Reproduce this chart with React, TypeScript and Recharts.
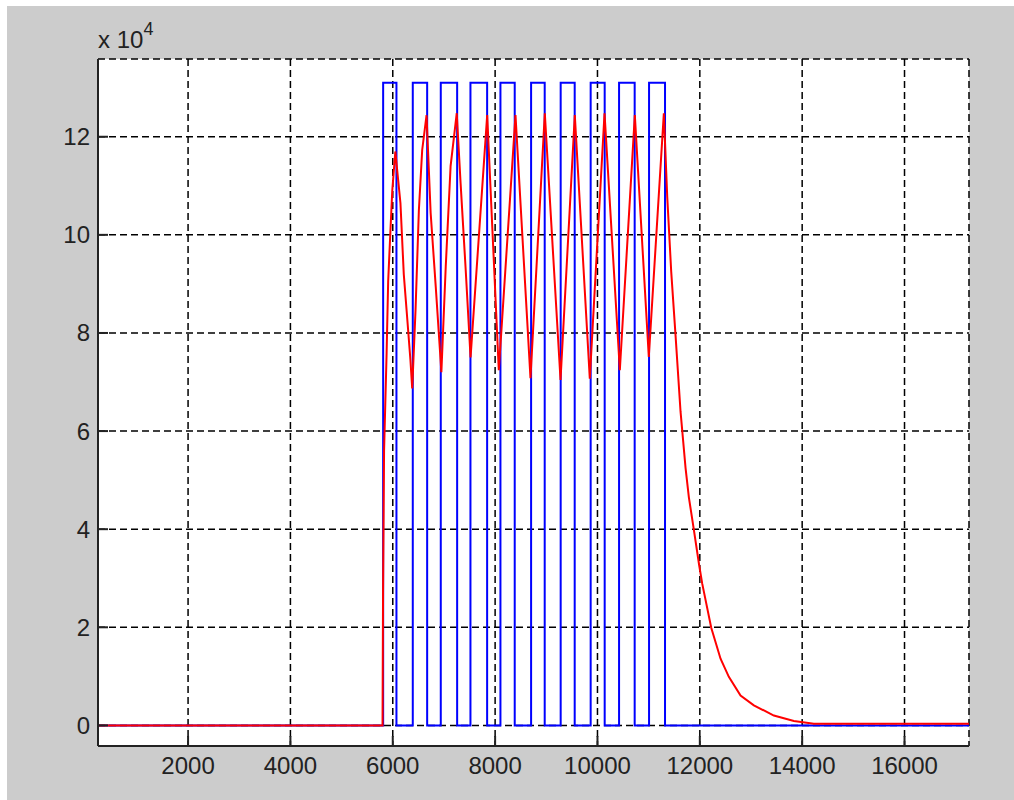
import { LineChart, Line, XAxis, YAxis, CartesianGrid, Label } from "recharts";

// square wave (blue): level changes at these x positions
const blueX = [240, 5812, 6072, 6391, 6672, 6938, 7258, 7518, 7844, 8104, 8383, 8703, 8969, 9281, 9555, 9867, 10141, 10422, 10727, 11008, 11320, 17260];
const blueY = [0, 131000, 0, 131000, 0, 131000, 0, 131000, 0, 131000, 0, 131000, 0, 131000, 0, 131000, 0, 131000, 0, 131000, 0, 0];

// response (red)
const redX = [
    240, 5800, 5810, 5830, 5880, 5910, 5955, 5990, 6050,
    6150, 6215, 6280, 6345, 6380,
    6445, 6510, 6575, 6660,
    6740, 6840, 6950,
    7035, 7130, 7250,
    7325, 7425, 7520,
    7845, 8072, 8398, 8691, 8971, 9278, 9557, 9850, 10138, 10437, 10730, 11003, 11297,
    11363, 11441, 11525, 11623, 11721, 11786, 11883, 11985, 12047, 12223, 12405, 12567, 12796, 13056, 13447, 13838, 14228, 17260,
];
const redY = [
    0, 0, 27000, 56000, 76000, 90500, 101000, 109000, 117000,
    106500, 92000, 83300, 74500, 68700,
    84700, 105000, 117300, 124400,
    104500, 89400, 72000,
    93500, 114000, 124800,
    110600, 92900, 75000,
    124400, 72400, 124400, 70800, 124800, 70400, 124400, 70700, 124800, 72400, 124400, 75100, 124800,
    107800, 92500, 79600, 64000, 52500, 46500, 39900, 32800, 28900, 19900, 13600, 9900, 6100, 4100, 2000, 900, 350, 350,
];

const xTicks = [2000, 4000, 6000, 8000, 10000, 12000, 14000, 16000];
const yTicks = [0, 20000, 40000, 60000, 80000, 100000, 120000];

const blueData = blueX.map((x, i) => ({ x, y: blueY[i] }));
const redData = redX.map((x, i) => ({ x, y: redY[i] }));

const tickFont = { fill: "#222", fontSize: 24, fontFamily: "Liberation Sans, Arial, sans-serif" };

const ExpLabel = (props: any) => {
    const vb = props.viewBox || { x: 0, y: 0, width: 0 };
    return (
        <text x={vb.x + vb.width} y={vb.y - 11} fill="#222" fontSize={24} fontFamily="Liberation Sans, Arial, sans-serif">
            x 10<tspan dy={-13} fontSize={18}>4</tspan>
        </text>
    );
};

export default function App() {
    return (
        <div style={{ position: "absolute", left: 0, top: 0, width: 1014, height: 800, background: "#fff" }}>
            <div style={{ position: "absolute", left: 7, top: 6, width: 1007, height: 794, background: "#cccccc" }} />
            <div style={{ position: "absolute", left: 0, top: 0 }}>
                <LineChart width={1014} height={800} margin={{ top: 59, right: 45, bottom: 0, left: 0 }}>
                    <CartesianGrid fill="#fff" stroke="#000" strokeWidth={1.5} strokeDasharray="7 4" />
                    <XAxis
                        type="number"
                        dataKey="x"
                        domain={[240, 17260]}
                        ticks={xTicks}
                        allowDataOverflow
                        height={54}
                        stroke="#222"
                        strokeWidth={2}
                        tickSize={-10}
                        tickMargin={21}
                        tick={tickFont}
                    />
                    <XAxis
                        xAxisId="top"
                        orientation="top"
                        type="number"
                        dataKey="x"
                        domain={[240, 17260]}
                        ticks={xTicks}
                        allowDataOverflow
                        height={0}
                        stroke="#222"
                        strokeWidth={2}
                        tickSize={-10}
                        tickFormatter={() => ""}
                    />
                    <YAxis
                        type="number"
                        domain={[-4200, 135850]}
                        ticks={yTicks}
                        allowDataOverflow
                        width={98}
                        stroke="#222"
                        strokeWidth={2}
                        tickSize={-10}
                        tickMargin={18}
                        tick={tickFont}
                        tickFormatter={(v: number) => String(v / 10000)}
                    >
                        <Label content={<ExpLabel />} />
                    </YAxis>
                    <YAxis
                        yAxisId="right"
                        orientation="right"
                        type="number"
                        domain={[-4200, 135850]}
                        ticks={yTicks}
                        allowDataOverflow
                        width={0}
                        stroke="#222"
                        strokeWidth={2}
                        tickSize={-10}
                        tickFormatter={() => ""}
                    />
                    <Line data={blueData} dataKey="y" type="stepAfter" stroke="#0000ff" strokeWidth={2} dot={false} isAnimationActive={false} />
                    <Line data={redData} dataKey="y" type="linear" stroke="#ff0000" strokeWidth={2} dot={false} isAnimationActive={false} />
                </LineChart>
            </div>
        </div>
    );
}
